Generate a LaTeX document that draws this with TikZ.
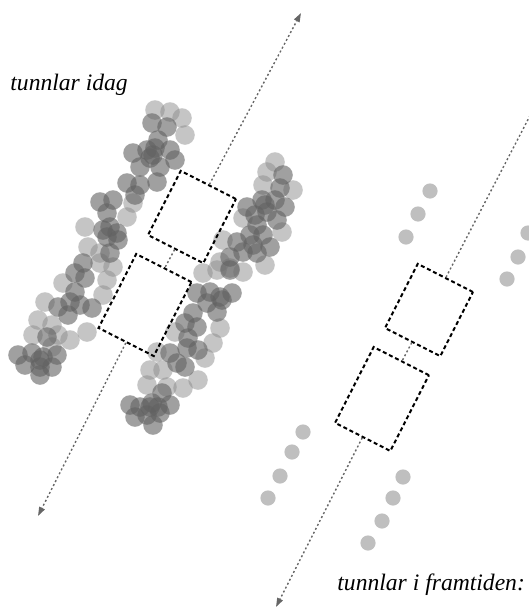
\documentclass[tikz,border=0pt]{standalone}
\usepackage{fontspec}
\setmainfont{Liberation Serif}
\usepackage{tikz}
\usetikzlibrary{arrows.meta}

\begin{document}
\begin{tikzpicture}[x=0.5pt, y=-0.5pt,
  paths/.style={line width=0.7pt, black!60, dash pattern=on 1pt off 1.2pt, -{Triangle[length=4.5pt,width=3pt]}},
  tube/.style={draw, rectangle, rotate=-27, inner sep=0pt, minimum width=31pt, line width=1pt, dash pattern=on 2pt off 1.4pt},
  oldlight/.style={fill=black!45, fill opacity=0.5},
  olddark/.style={fill=black!62, fill opacity=0.6},
  newdot/.style={fill=black!25},
  tag/.style={font=\fontsize{11.8}{14}\selectfont\itshape, inner sep=0pt, anchor=base west}]

 \useasboundingbox (0,0) rectangle (529,611);


 % tunnlar idag
 \foreach \px/\py in {155/110,170/112,182/118,185/135,85/227,127/217,133/203,88/247,100/253,100/263,113/267,63/283,107/280,103/295,45/302,38/320,52/325,33/335,58/335,70/340,87/332,52/347,
   275/162,267/172,293/190,263/185,243/218,282/232,223/240,220/262,230/268,243/272,265/265,217/270,203/273,220/328,175/332,213/343,157/352,205/358,163/370,150/370,198/380,147/385,167/387,183/388}
   \fill[oldlight] (\px,\py) circle (4.9pt);

 \foreach \px/\py in {152/123,167/127,158/140,147/150,133/153,153/155,150/158,155/148,170/150,175/160,160/167,140/167,127/183,140/185,157/182,135/195,100/202,113/200,107/213,103/230,117/233,110/227,118/240,107/237,110/253,83/263,75/273,85/278,75/292,58/307,70/302,80/305,92/308,68/315,47/337,18/355,32/353,43/357,40/360,57/355,25/365,40/367,52/367,40/375,
   283/175,280/188,262/200,275/200,285/207,247/207,267/212,265/205,255/215,277/220,257/225,263/235,250/235,237/242,253/245,270/247,243/252,257/253,230/257,230/270,197/293,210/292,220/297,222/300,232/293,207/303,217/312,193/313,185/323,197/327,188/338,198/350,187/348,170/353,177/363,185/367,162/393,130/405,140/407,150/407,152/403,158/407,170/405,135/417,147/415,160/413,153/425}
   \fill[olddark] (\px,\py) circle (4.9pt);

 \node[tube, minimum height=36pt] (today_1) at (192,217) {};
 \node[tube, minimum height=41.5pt] (today_2) at (145,305) {};

 \coordinate (today_top) at (301,13);
 \coordinate (today_bottom) at (38,516);

 \draw [paths] (today_1) -- (today_top);
 \draw [paths, -] (today_1) -- (today_2);
 \draw [paths] (today_2) -- (today_bottom);

 \node[tag] (label_today) at (10,90) {tunnlar idag};


 % tunnlar i framtiden
 \foreach \px/\py in {430/191,418/214,406/237,528/233,518/257,507/279,303/432,292/452,280/476,268/498,403/477,393/498,382/521,368/543}
   \fill[newdot] (\px,\py) circle (3.8pt);

 \node[tube, minimum height=36pt] (future_1) at (429,310) {};
 \node[tube, minimum height=42.5pt] (future_2) at (382,399) {};

 \coordinate (future_top) at (560,58);
 \coordinate (future_bottom) at (276,607);

 \draw [paths] (future_1) -- (future_top);
 \draw [paths, -] (future_1) -- (future_2);
 \draw [paths] (future_2) -- (future_bottom);

 \node[tag] (label_future) at (337,590) {tunnlar i framtiden:};


\end{tikzpicture}
\end{document}
